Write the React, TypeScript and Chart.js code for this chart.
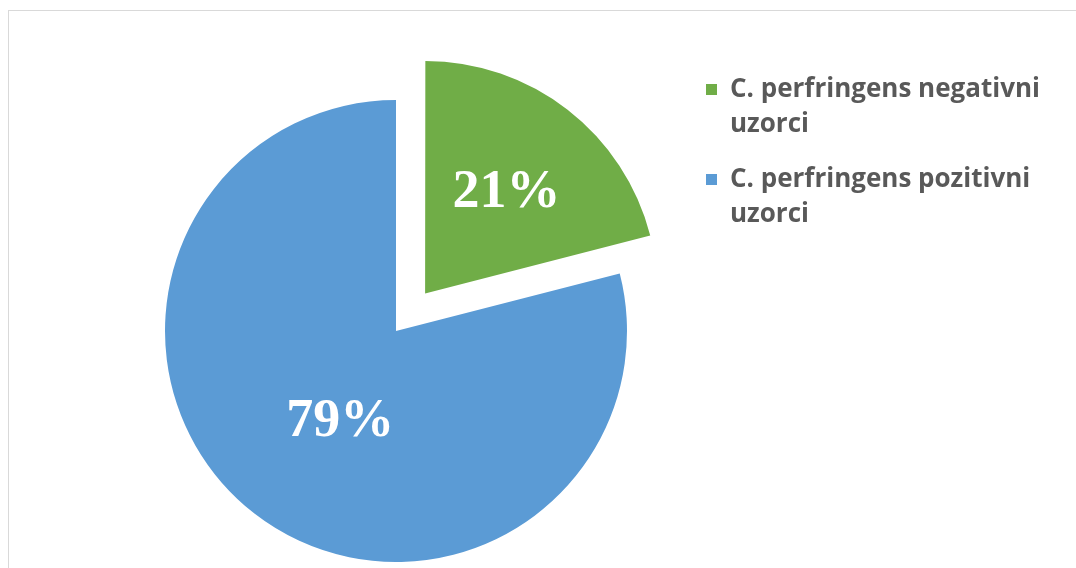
import React, { useEffect, useRef } from "react";
import { Chart, registerables } from "chart.js";

Chart.register(...registerables);

const categories = ["C. perfringens negativni uzorci", "C. perfringens pozitivni uzorci"];
const values = [21, 79];
const valueLabels = ["21%", "79%"];
const colors = ["#70AD47", "#5B9BD5"];

const labelPlugin = {
  id: "sliceLabels",
  afterDatasetsDraw(chart: any, _args: any, opts: any) {
    const ctx = chart.ctx;
    const meta = chart.getDatasetMeta(0);
    ctx.save();
    ctx.fillStyle = "#ffffff";
    ctx.font = "bold 54px 'Liberation Serif', 'DejaVu Serif', serif";
    ctx.textAlign = "center";
    ctx.textBaseline = "middle";
    meta.data.forEach((arc: any, i: number) => {
      const p = arc.getProps(["x", "y", "startAngle", "endAngle", "outerRadius"], true);
      const mid = (p.startAngle + p.endAngle) / 2;
      const shift = (arc.options.offset || 0) / 4;
      const f = (opts.fractions && opts.fractions[i]) || 0.5;
      const d = shift + f * p.outerRadius;
      const nudge = (opts.nudges && opts.nudges[i]) || [0, 0];
      const x = p.x + Math.cos(mid) * d + nudge[0];
      const y = p.y + Math.sin(mid) * d + nudge[1];
      ctx.fillText(valueLabels[i], x, y);
    });
    ctx.restore();
  },
};

export default function App() {
  const ref = useRef<HTMLCanvasElement | null>(null);

  useEffect(() => {
    if (!ref.current) return;
    const chart = new Chart(ref.current, {
      type: "pie",
      data: {
        labels: categories,
        datasets: [
          {
            data: values,
            backgroundColor: colors,
            borderWidth: 0,
            offset: [190, 0],
            hoverOffset: 0,
            clip: false,
          } as any,
        ],
      },
      options: {
        animation: false,
        responsive: false,
        radius: 231,
        layout: { padding: { left: 0, right: 284, top: 94, bottom: 0 } },
        plugins: {
          legend: { display: false },
          tooltip: { enabled: false },
          sliceLabels: { fractions: [0.56, 0.5], nudges: [[2, 2], [15, 0]] },
        } as any,
        events: [],
      } as any,
      plugins: [labelPlugin],
    });
    return () => chart.destroy();
  }, []);

  return (
    <div
      style={{
        position: "fixed",
        left: 0,
        top: 0,
        width: 1076,
        height: 568,
        overflow: "hidden",
        background: "#ffffff",
      }}
    >
      <div
        style={{
          position: "absolute",
          left: 8,
          top: 10,
          width: 1200,
          height: 700,
          border: "1.5px solid #d9d9d9",
          boxSizing: "border-box",
        }}
      />
      <canvas
        ref={ref}
        width={1076}
        height={568}
        style={{ position: "absolute", left: 0, top: 0, width: 1076, height: 568 }}
      />
      <div
        style={{
          position: "absolute",
          left: 706,
          top: 70,
          width: 365,
          fontFamily: "'Open Sans', Lato, sans-serif",
          fontWeight: 700,
          fontSize: 26,
          lineHeight: "35px",
          color: "#595959",
        }}
      >
        {categories.map((c, i) => (
          <div key={c} style={{ display: "flex", marginBottom: 20 }}>
            <div
              style={{
                width: 11,
                height: 11,
                background: colors[i],
                marginTop: 14,
                marginRight: 13,
                flex: "0 0 auto",
              }}
            />
            <div style={{ width: 340 }}>{c}</div>
          </div>
        ))}
      </div>
    </div>
  );
}
